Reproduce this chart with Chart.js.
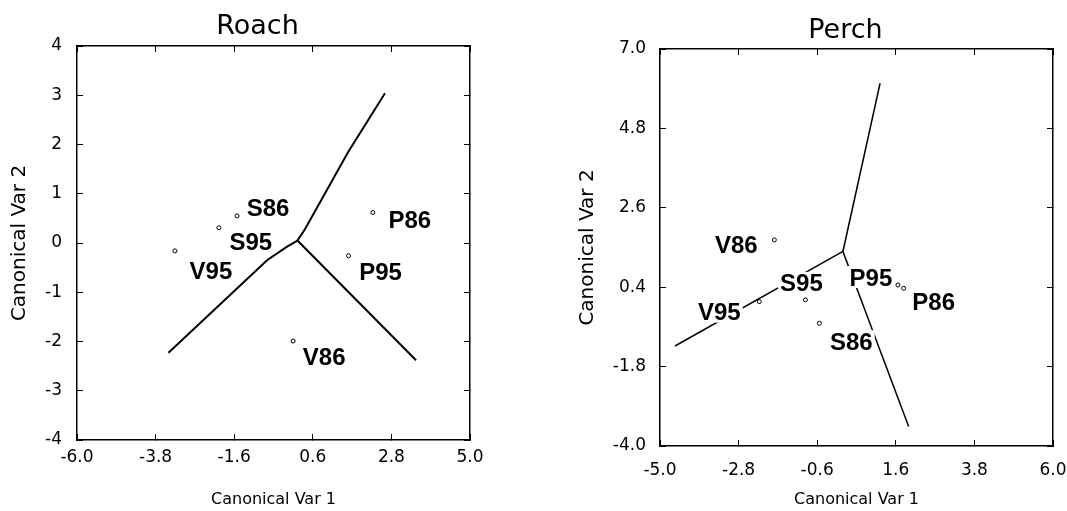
<!DOCTYPE html>
<html>
<head>
<meta charset="utf-8">
<script src="https://cdn.jsdelivr.net/npm/chart.js@4.4.1/dist/chart.umd.min.js"></script>
<style>
  body { margin: 0; background: #fff; }
  #wrap { position: relative; width: 1067px; height: 511px; }
  #roach { position: absolute; left: 0; top: 0; }
  #perch { position: absolute; left: 560px; top: 0; }
</style>
</head>
<body>
<div id="wrap">
  <canvas id="roach" width="540" height="511"></canvas>
  <canvas id="perch" width="507" height="511"></canvas>
</div>
<script>
// ---- Roach: group means on the two canonical variables ----
const roachGroups = ['S86', 'S95', 'V95', 'V86', 'P86', 'P95'];
const roachCv1 = [-1.52, -2.03, -3.26, 0.05, 2.28, 1.60];
const roachCv2 = [0.55, 0.31, -0.16, -1.99, 0.62, -0.26];
// boundaries, each one starts at the common centre
const roachUpperX = [0.17, 0.38, 1.59, 2.62];
const roachUpperY = [0.05, 0.28, 1.85, 3.04];
const roachLeftX = [0.17, -0.13, -0.68, -3.44];
const roachLeftY = [0.05, -0.08, -0.35, -2.23];
const roachRightX = [0.17, 3.49];
const roachRightY = [0.05, -2.38];
const roachXTicks = [-6.0, -3.8, -1.6, 0.6, 2.8, 5.0];
const roachYTicks = [-4, -3, -2, -1, 0, 1, 2, 3, 4];

// ---- Perch ----
const perchGroups = ['V86', 'S95', 'V95', 'S86', 'P95', 'P86'];
const perchCv1 = [-1.80, -0.93, -2.22, -0.54, 1.66, 1.82];
const perchCv2 = [1.71, 0.05, 0.00, -0.60, 0.46, 0.37];
const perchUpperX = [0.12, 1.16];
const perchUpperY = [1.39, 6.05];
const perchLeftX = [0.12, -4.58];
const perchLeftY = [1.39, -1.23];
const perchRightX = [0.12, 1.96];
const perchRightY = [1.39, -3.46];
const perchXTicks = [-5.0, -2.8, -0.6, 1.6, 3.8, 6.0];
const perchYTicks = [-4.0, -1.8, 0.4, 2.6, 4.8, 7.0];

// where each group label sits, in pixels from its point
const roachLabelShift = { S86: [31, -8], S95: [32, 14], V95: [36, 20], V86: [31, 15], P86: [37, 7], P95: [32, 16] };
const perchLabelShift = { V86: [-38, 5], S95: [-4, -17], V95: [-40, 10], S86: [32, 18], P95: [-27, -8], P86: [30, 13] };

const tickFont = { family: '"DejaVu Sans", sans-serif', size: 17 };

function pts(xs, ys) {
    return xs.map((x, i) => ({ x: x, y: ys[i] }));
}

function edge(xs, ys, width) {
    return {
        data: pts(xs, ys),
        showLine: true,
        borderColor: '#000',
        borderWidth: width,
        pointRadius: 0,
        fill: false,
        tension: 0
    };
}

function means(xs, ys) {
    return {
        data: pts(xs, ys),
        showLine: false,
        pointRadius: 2,
        pointBorderWidth: 1,
        pointBackgroundColor: '#fff',
        pointBorderColor: '#000'
    };
}

// labels with a white box (they break the lines like in the print) + panel title
function labelPlugin(names, xs, ys, shift, title, titleShift, titleBase) {
    return {
        id: 'groupLabels',
        afterDatasetsDraw(chart) {
            const ctx = chart.ctx;
            const sx = chart.scales.x, sy = chart.scales.y;
            ctx.save();
            ctx.font = 'bold 24px "Liberation Sans", Arial, sans-serif';
            ctx.textAlign = 'center';
            ctx.textBaseline = 'alphabetic';
            names.forEach((name, i) => {
                const cx = sx.getPixelForValue(xs[i]) + shift[name][0];
                const cy = sy.getPixelForValue(ys[i]) + shift[name][1];
                const w = ctx.measureText(name).width;
                ctx.fillStyle = '#fff';
                ctx.fillRect(cx - w / 2 - 2, cy - 11, w + 4, 22);
                ctx.fillStyle = '#000';
                ctx.fillText(name, cx, cy + 8.5);
            });
            const area = chart.chartArea;
            ctx.font = '27px "DejaVu Sans", sans-serif';
            ctx.fillText(title, (area.left + area.right) / 2 + titleShift, titleBase);
            ctx.restore();
        }
    };
}

// four framed axes, ticks pointing inward, labels only bottom and left
function panelScales(p) {
    const setTicks = list => scale => { scale.ticks = list.map(v => ({ value: v })); };
    const grid = { drawOnChartArea: false, tickLength: -6, color: '#000', lineWidth: 1 };
    const border = { display: true, color: '#000', width: 1.5 };
    return {
        x: {
            type: 'linear', position: 'bottom', min: p.xMin, max: p.xMax,
            afterBuildTicks: setTicks(p.xTicks),
            afterFit: s => { s.height = p.bottom; s.paddingLeft = 0; s.paddingRight = 0; },
            grid: grid, border: border,
            ticks: { padding: p.xPad, font: tickFont, color: '#000', callback: v => v.toFixed(1) },
            title: {
                display: true, text: 'Canonical Var 1', color: '#000',
                font: { family: '"DejaVu Sans", sans-serif', size: 16 },
                padding: { top: 0, bottom: 2 }
            }
        },
        x2: {
            type: 'linear', position: 'top', min: p.xMin, max: p.xMax,
            afterBuildTicks: setTicks(p.xTicks),
            afterFit: s => { s.height = p.top; s.paddingLeft = 0; s.paddingRight = 0; },
            grid: grid, border: border,
            ticks: { display: false }
        },
        y: {
            type: 'linear', position: 'left', min: p.yMin, max: p.yMax,
            afterBuildTicks: setTicks(p.yTicks),
            afterFit: s => { s.width = p.left; },
            grid: grid, border: border,
            ticks: { padding: p.yPad, font: tickFont, color: '#000', callback: p.yFormat },
            title: {
                display: true, text: 'Canonical Var 2', color: '#000',
                font: { family: '"DejaVu Sans", sans-serif', size: 20 },
                padding: { top: p.yTitlePad, bottom: 0 }
            }
        },
        y2: {
            type: 'linear', position: 'right', min: p.yMin, max: p.yMax,
            afterBuildTicks: setTicks(p.yTicks),
            afterFit: s => { s.width = p.right; },
            grid: grid, border: border,
            ticks: { display: false }
        }
    };
}

function baseOptions(scales) {
    return {
        responsive: false,
        maintainAspectRatio: false,
        animation: false,
        events: [],
        layout: { padding: 0 },
        plugins: { legend: { display: false }, title: { display: false }, tooltip: { enabled: false } },
        scales: scales
    };
}

new Chart(document.getElementById('roach'), {
    type: 'scatter',
    data: {
        datasets: [
            edge(roachUpperX, roachUpperY, 2),
            edge(roachLeftX, roachLeftY, 2),
            edge(roachRightX, roachRightY, 2),
            means(roachCv1, roachCv2)
        ]
    },
    options: baseOptions(panelScales({
        xMin: -6, xMax: 5, yMin: -4, yMax: 4,
        xTicks: roachXTicks, yTicks: roachYTicks,
        left: 77, right: 70, top: 46, bottom: 71,
        xPad: 13, yPad: 21, yTitlePad: 8,
        yFormat: v => String(v)
    })),
    plugins: [labelPlugin(roachGroups, roachCv1, roachCv2, roachLabelShift, 'Roach', -16, 34)]
});

new Chart(document.getElementById('perch'), {
    type: 'scatter',
    data: {
        datasets: [
            edge(perchUpperX, perchUpperY, 1.5),
            edge(perchLeftX, perchLeftY, 1.5),
            edge(perchRightX, perchRightY, 1.5),
            means(perchCv1, perchCv2)
        ]
    },
    options: baseOptions(panelScales({
        xMin: -5, xMax: 6, yMin: -4, yMax: 7,
        xTicks: perchXTicks, yTicks: perchYTicks,
        left: 100, right: 14, top: 49, bottom: 65,
        xPad: 20, yPad: 20, yTitlePad: 16,
        yFormat: v => v.toFixed(1)
    })),
    plugins: [labelPlugin(perchGroups, perchCv1, perchCv2, perchLabelShift, 'Perch', -11, 38)]
});
</script>
</body>
</html>
